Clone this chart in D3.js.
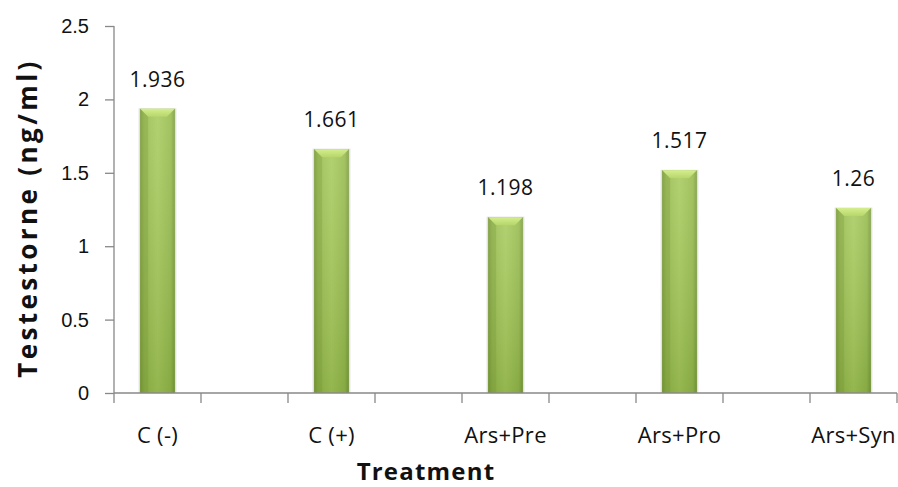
<!DOCTYPE html>
<html>
<head>
<meta charset="utf-8">
<script src="https://cdn.jsdelivr.net/npm/d3@7"></script>
<style>
  body { margin: 0; background: #fff; }
  svg { display: block; font-family: "Open Sans", "Liberation Sans", sans-serif; }
</style>
</head>
<body>
<svg width="898" height="487"></svg>
<script>
let width = 898,
    height = 487;

// chart data
let categories = ["C (-)", "C (+)", "Ars+Pre", "Ars+Pro", "Ars+Syn"];
let values = [1.936, 1.661, 1.198, 1.517, 1.26];
let valueLabels = ["1.936", "1.661", "1.198", "1.517", "1.26"];
let yTicks = [0, 0.5, 1, 1.5, 2, 2.5];

let margin = { top: 26, right: 1, bottom: 94, left: 114 };

let svg = d3.select("svg");

// the source chart has an empty slot between every two treatments
let slots = d3.range(categories.length * 2 - 1);

let x = d3.scaleBand()
    .domain(slots)
    .range([margin.left, width - margin.right]);

let y = d3.scaleLinear()
    .domain([0, 2.5])
    .range([height - margin.bottom, margin.top]);

let defs = svg.append("defs");

// horizontal shading of the bar body
let hGrad = defs.append("linearGradient")
    .attr("id", "barH")
    .attr("x1", "0").attr("x2", "1").attr("y1", "0").attr("y2", "0");
hGrad.append("stop").attr("offset", "0%").attr("stop-color", "#7e9f3c");
hGrad.append("stop").attr("offset", "12%").attr("stop-color", "#97bb4e");
hGrad.append("stop").attr("offset", "50%").attr("stop-color", "#a7ca5c");
hGrad.append("stop").attr("offset", "88%").attr("stop-color", "#97bb4e");
hGrad.append("stop").attr("offset", "100%").attr("stop-color", "#7a9b39");

// vertical darkening towards the base
let vGrad = defs.append("linearGradient")
    .attr("id", "barV")
    .attr("x1", "0").attr("x2", "0").attr("y1", "0").attr("y2", "1");
vGrad.append("stop").attr("offset", "0%").attr("stop-color", "#ffffff").attr("stop-opacity", 0.12);
vGrad.append("stop").attr("offset", "100%").attr("stop-color", "#3e5a12").attr("stop-opacity", 0.18);

let capGrad = defs.append("linearGradient")
    .attr("id", "barCap")
    .attr("x1", "0").attr("x2", "0").attr("y1", "0").attr("y2", "1");
capGrad.append("stop").attr("offset", "0%").attr("stop-color", "#d4ee8e");
capGrad.append("stop").attr("offset", "100%").attr("stop-color", "#b6d66a");

let barW = x.bandwidth() * 0.4;
let bevel = 8;

let bars = svg.append("g")
    .attr("id", "bars")
    .selectAll("g")
    .data(values)
    .enter()
    .append("g")
    .attr("transform", (d, i) => "translate(" + (x(i * 2) + (x.bandwidth() - barW) / 2) + ",0)");

// soft shadow
bars.append("rect")
    .attr("x", -1.5)
    .attr("y", d => y(d) - 0.5)
    .attr("width", barW + 3)
    .attr("height", d => y(0) - y(d) + 0.5)
    .attr("fill", "#000")
    .attr("opacity", 0.12);

bars.append("rect")
    .attr("x", 0)
    .attr("y", d => y(d))
    .attr("width", barW)
    .attr("height", d => y(0) - y(d))
    .attr("fill", "url(#barH)");

bars.append("rect")
    .attr("x", 0)
    .attr("y", d => y(d))
    .attr("width", barW)
    .attr("height", d => y(0) - y(d))
    .attr("fill", "url(#barV)");

// bevelled top
bars.append("path")
    .attr("d", d => "M0," + y(d) + "H" + barW + "L" + (barW - bevel) + "," + (y(d) + bevel) +
        "H" + bevel + "Z")
    .attr("fill", "url(#barCap)");
bars.append("path")
    .attr("d", d => "M0," + y(d) + "L" + bevel + "," + (y(d) + bevel) + "V" + (y(0)) + "H0Z")
    .attr("fill", "#6f9030")
    .attr("opacity", 0.25);

// value labels
svg.append("g")
    .selectAll("text")
    .data(values)
    .enter()
    .append("text")
    .attr("x", (d, i) => x(i * 2) + x.bandwidth() / 2)
    .attr("y", d => y(d) - 22)
    .attr("text-anchor", "middle")
    .style("font-size", "21px")
    .style("letter-spacing", "0.5px")
    .style("fill", "#111")
    .text((d, i) => valueLabels[i]);

// y axis
let yAxis = svg.append("g")
    .attr("transform", "translate(" + margin.left + ",0)")
    .call(d3.axisLeft(y).tickValues(yTicks).tickSize(9).tickPadding(16).tickFormat(d3.format("")));
yAxis.selectAll("text").style("font-size", "20px").style("fill", "#111");

// x axis with ticks on every slot boundary
let xAxis = svg.append("g")
    .attr("transform", "translate(0," + y(0) + ")");
xAxis.append("line")
    .attr("x1", margin.left)
    .attr("x2", width - margin.right)
    .attr("stroke", "#888");
xAxis.selectAll(".tick")
    .data(slots.concat([slots.length]))
    .enter()
    .append("line")
    .attr("class", "tick")
    .attr("x1", d => d < slots.length ? x(d) : x.range()[1])
    .attr("x2", d => d < slots.length ? x(d) : x.range()[1])
    .attr("y1", 0)
    .attr("y2", 10)
    .attr("stroke", "#888");
xAxis.selectAll("text")
    .data(categories)
    .enter()
    .append("text")
    .attr("x", (d, i) => x(i * 2) + x.bandwidth() / 2)
    .attr("y", 50)
    .attr("text-anchor", "middle")
    .style("font-size", "22px")
    .style("letter-spacing", "0.3px")
    .style("fill", "#111")
    .text(d => d);

yAxis.selectAll("path, line").attr("stroke", "#888").attr("stroke-width", 1.3);
xAxis.selectAll("line").attr("stroke-width", 1.3);
yAxis.select(".domain").attr("d", "M0," + y(2.5) + "V" + y(0));

// axis titles
svg.append("text")
    .attr("x", 426)
    .attr("y", 480)
    .attr("text-anchor", "middle")
    .style("font-size", "24px")
    .style("font-weight", "bold")
    .style("letter-spacing", "1.2px")
    .style("fill", "#111")
    .text("Treatment");

svg.append("text")
    .attr("transform", "translate(37,218) rotate(-90)")
    .attr("text-anchor", "middle")
    .style("font-size", "26px")
    .style("font-weight", "bold")
    .style("letter-spacing", "3.4px")
    .style("fill", "#111")
    .text("Testestorne (ng/ml)");
</script>
</body>
</html>
